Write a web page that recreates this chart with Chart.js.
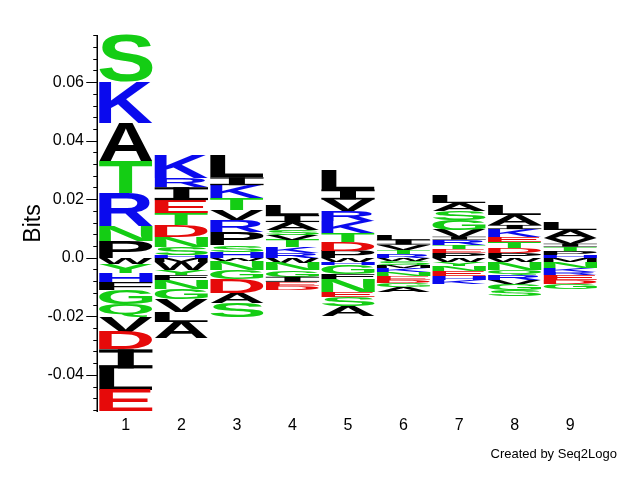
<!DOCTYPE html>
<html><head><meta charset="utf-8">
<script src="https://cdn.jsdelivr.net/npm/chart.js@4"></script>
<style>html,body{margin:0;padding:0;background:#fff;}canvas{display:block;}</style>
</head><body>
<canvas id="c" width="640" height="480"></canvas>
<script>
// Sequence positions (x categories)
const positions = ['1','2','3','4','5','6','7','8','9'];
// Letters above zero, listed from the zero line outward
const upLetters = ['PNRTAKS','HSNDTEIRK','HSPRVTKIL','RKTVSAIL','PDTKRVIL','RTVIL','PETRIVGSAL','PDTEKIAL','HPTIVAL'];
const upBits = [
  [0.0058,0.0051,0.0113,0.0109,0.0130,0.0140,0.0161],
  [0.0010,0.0027,0.0034,0.0041,0.0041,0.0044,0.0044,0.0031,0.0079],
  [0.0020,0.0024,0.0044,0.0041,0.0034,0.0041,0.0044,0.0027,0.0075],
  [0.0017,0.0020,0.0024,0.0017,0.0017,0.0027,0.0024,0.0034],
  [0.0024,0.0031,0.0031,0.0038,0.0034,0.0041,0.0034,0.0068],
  [0.0014,0.0014,0.0017,0.0017,0.0017],
  [0.0017,0.0014,0.0014,0.0017,0.0010,0.0024,0.0034,0.0031,0.0027,0.0027],
  [0.0017,0.0017,0.0020,0.0017,0.0027,0.0014,0.0034,0.0034],
  [0.0010,0.0014,0.0014,0.0010,0.0020,0.0027,0.0024]
];
// Letters below zero, listed from the zero line outward
const downLetters = ['WYHFGQVDILE','MWYFNGVLA','WNGDAS','WNGIED','WHGFNESA','WSMKNEDGA','WYNEHK','WNQRVGS','MNKREDG'];
const downBits = [
  [-0.0020,-0.0031,-0.0034,-0.0024,-0.0048,-0.0044,-0.0051,-0.0061,-0.0065,-0.0073,-0.0074],
  [-0.0014,-0.0027,-0.0017,-0.0017,-0.0031,-0.0034,-0.0044,-0.0034,-0.0058],
  [-0.0010,-0.0031,-0.0031,-0.0048,-0.0034,-0.0048],
  [-0.0017,-0.0024,-0.0024,-0.0017,-0.0014,-0.0014],
  [-0.0014,-0.0010,-0.0031,-0.0017,-0.0044,-0.0017,-0.0031,-0.0034],
  [-0.0010,-0.0014,-0.0010,-0.0014,-0.0014,-0.0014,-0.0010,-0.0014,-0.0017],
  [-0.0014,-0.0014,-0.0017,-0.0017,-0.0014,-0.0014],
  [-0.0014,-0.0027,-0.0017,-0.0017,-0.0017,-0.0020,-0.0020],
  [-0.0014,-0.0020,-0.0014,-0.0010,-0.0017,-0.0014,-0.0017]
];
const yTickValues = [-0.04,-0.02,0,0.02,0.04,0.06];
const yTickLabels = ['-0.04','-0.02','0.0','0.02','0.04','0.06'];
const yRange = [-0.0527, 0.0761];
const axisTitle = 'Bits';
const creditText = 'Created by Seq2Logo';

const GREEN = 'rgb(20,205,20)', BLUE = 'rgb(10,10,238)', RED = 'rgb(230,10,10)', BLACK = '#000';
function colorOf(ch){
  if ('GSTYCQN'.includes(ch)) return GREEN;
  if ('KRH'.includes(ch)) return BLUE;
  if ('DE'.includes(ch)) return RED;
  return BLACK;
}
const FAMILY = '"Liberation Sans", Arial, Helvetica, sans-serif';

const datasets = [];
function addLayers(letters, bits){
  const maxN = Math.max(...letters.map(s => s.length));
  for (let k = 0; k < maxN; k++) {
    datasets.push({
      data: positions.map((_, i) => k < bits[i].length ? bits[i][k] : null),
      letters: positions.map((_, i) => letters[i][k] || null),
      backgroundColor: 'rgba(0,0,0,0)', borderWidth: 0, stack: 'logo',
      barPercentage: 0.96, categoryPercentage: 1
    });
  }
}
addLayers(upLetters, upBits);
addLayers(downLetters, downBits);

const glyphCache = {};
function drawGlyph(ctx, ch, left, top, w, h){
  if (w <= 0 || h <= 0) return;
  ctx.fillStyle = colorOf(ch);
  if (ch === 'I') {
    const bar = h * 0.17, stem = w * 0.3;
    ctx.fillRect(left, top, w, bar);
    ctx.fillRect(left + (w - stem) / 2, top, stem, h);
    ctx.fillRect(left, top + h - bar, w, bar);
    return;
  }
  ctx.font = 'bold 200px ' + FAMILY;
  ctx.textAlign = 'left'; ctx.textBaseline = 'alphabetic';
  let m = glyphCache[ch];
  if (!m) {
    const t = ctx.measureText(ch);
    m = glyphCache[ch] = {l: t.actualBoundingBoxLeft, r: t.actualBoundingBoxRight, a: t.actualBoundingBoxAscent, d: t.actualBoundingBoxDescent};
  }
  const gw = m.l + m.r, gh = m.a + m.d;
  ctx.save();
  ctx.translate(left, top);
  ctx.scale(w / gw, h / gh);
  ctx.fillText(ch, m.l, m.a);
  ctx.restore();
}

const logoPlugin = {
  id: 'logo',
  afterDatasetsDraw(chart){
    const ctx = chart.ctx;
    chart.data.datasets.forEach((ds, di) => {
      const meta = chart.getDatasetMeta(di);
      meta.data.forEach((el, i) => {
        if (ds.data[i] == null || !ds.letters[i]) return;
        const p = el.getProps(['x','y','base','width'], true);
        const top = Math.min(p.y, p.base), h = Math.abs(p.base - p.y);
        drawGlyph(ctx, ds.letters[i], p.x - p.width / 2, top, p.width, h);
      });
    });
  },
  afterDraw(chart){
    const ctx = chart.ctx, ys = chart.scales.y, ca = chart.chartArea;
    ctx.save();
    ctx.strokeStyle = '#000';
    ctx.lineWidth = 1.5;
    const ax = ca.left - 0.75;
    ctx.beginPath(); ctx.moveTo(ax, ca.top); ctx.lineTo(ax, ca.bottom); ctx.stroke();
    ctx.lineWidth = 1;
    for (let k = -20; k <= 25; k++) {
      const v = k * 0.004;
      if (v < yRange[0] - 1e-9 || v > yRange[1] + 1e-9) continue;
      const y = Math.round(ys.getPixelForValue(v)) + 0.5;
      const len = (k % 5 === 0) ? 11 : 4;
      ctx.beginPath(); ctx.moveTo(ax - len, y); ctx.lineTo(ax, y); ctx.stroke();
    }
    ctx.fillStyle = '#000';
    ctx.font = '13px ' + FAMILY;
    ctx.textAlign = 'right'; ctx.textBaseline = 'alphabetic';
    ctx.fillText(creditText, 617, 458);
    ctx.restore();
  }
};

new Chart(document.getElementById('c'), {
  type: 'bar',
  data: { labels: positions, datasets },
  plugins: [logoPlugin],
  options: {
    responsive: false, animation: false, events: [],
    layout: { padding: { left: 16, right: 42, top: 35, bottom: 0 } },
    plugins: { legend: { display: false }, tooltip: { enabled: false } },
    scales: {
      x: {
        stacked: true,
        grid: { display: false, drawTicks: false },
        border: { display: false },
        ticks: { color: '#000', font: { family: FAMILY, size: 16 }, padding: 4, maxRotation: 0 },
        afterFit(s){ s.height = 68; }
      },
      y: {
        stacked: true, min: yRange[0], max: yRange[1],
        grid: { display: false, drawTicks: false },
        border: { display: false },
        ticks: { color: '#000', font: { family: FAMILY, size: 16 }, padding: 14,
                 callback: (v, i) => yTickLabels[i] },
        afterBuildTicks(s){ s.ticks = yTickValues.map(v => ({ value: v })); },
        afterFit(s){ s.width = 82; },
        title: { display: true, text: axisTitle, color: '#000', font: { family: FAMILY, size: 23 }, padding: { top: 4, bottom: 4 } }
      }
    }
  }
});
</script>
</body></html>
